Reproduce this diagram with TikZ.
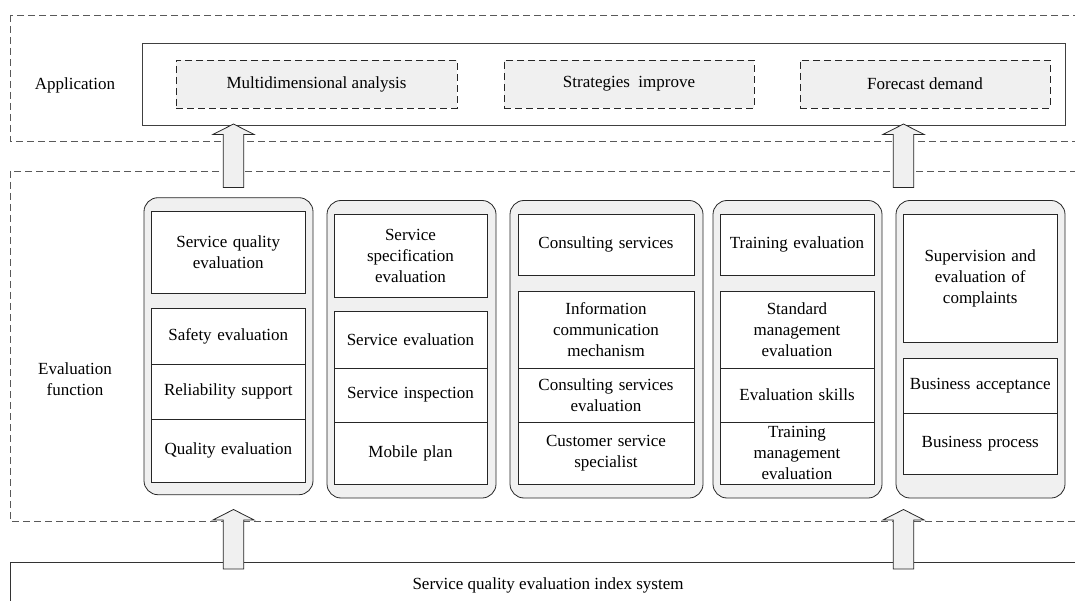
\documentclass[tikz,border=0pt]{standalone}
\usepackage{fontspec}
\setmainfont{Liberation Serif}
\usepackage{tikz}
\usetikzlibrary{positioning}

\definecolor{panelgray}{RGB}{240,240,240}

\tikzset{
  every node/.style={font=\fontsize{17pt}{21pt}\selectfont},
  layerbox/.style={draw=black!65, line width=0.8pt, dash pattern=on 7pt off 4pt},
  appbox/.style={draw=black!75, line width=0.9pt, inner sep=0pt},
  appitem/.style={draw=black!85, fill=panelgray, line width=0.8pt, dash pattern=on 7pt off 4pt, inner sep=0pt, minimum height=48pt},
  column/.style={draw=black!85, fill=panelgray, line width=0.8pt, rounded corners=14pt, inner sep=0pt},
  cell/.style={draw=black!85, fill=white, line width=0.8pt, inner sep=0pt, align=center},
  bigarrow/.style={draw=black!85, fill=panelgray, line width=0.8pt},
  layername/.style={align=center},
}

\begin{document}
\begin{tikzpicture}[x=1pt,y=-1pt]
  \useasboundingbox (0,0) rectangle (1075,601);
  \clip (0,0) rectangle (1075,601);

  % layers
  \draw [layerbox] (10,15) rectangle (1090,141);% application layer
  \draw [layerbox] (10,171) rectangle (1090,521);% evaluation layer
  \draw [black!80, line width=0.9pt] (10,620) -- (10,562) -- (1090,562);% index system

  \node[layername] (applabel) at (75,85) {Application};
  \node[layername] (evallabel) at (75,379) {Evaluation\\function};
  \node (indexsys) at (548,585) {Service quality evaluation index system};

  % application box
  \node[appbox, minimum width=923pt, minimum height=82pt] (appbox) at (603.5,84) {};
  \node[appitem, minimum width=281pt] (multi) at (316.5,84) {Multidimensional analysis};
  \node[appitem, minimum width=250pt] (strat) at (629,84) {Strategies\ \ improve};
  \node[appitem, minimum width=250pt] (forecast) at (925,84) {Forecast demand};

  % column 1
  \node[column, minimum width=169pt, minimum height=297pt] (col1) at (228.5,346.2) {};
  \begin{scope}[every node/.append style={minimum width=153.5pt, text width=145pt}]
    \node[cell, minimum height=82pt] (sqe) at (228.25,252) {Service quality\\evaluation};
    \node[cell, minimum height=56pt] (safety) at (228.25,336) {Safety evaluation};
    \node[cell, minimum height=55pt] (reliab) at (228.25,391.5) {Reliability support};
    \node[cell, minimum height=63pt] (quality) at (228.25,450.5) {Quality evaluation};
  \end{scope}

  % column 2
  \node[column, minimum width=169pt, minimum height=297.5pt] (col2) at (411.5,349.25) {};
  \begin{scope}[every node/.append style={minimum width=153pt, text width=145pt}]
    \node[cell, minimum height=83pt] (spec) at (410.5,255.5) {Service\\specification\\evaluation};
    \node[cell, minimum height=57pt] (serveval) at (410.5,339.5) {Service evaluation};
    \node[cell, minimum height=54pt] (inspect) at (410.5,395) {Service inspection};
    \node[cell, minimum height=62pt] (mobile) at (410.5,453) {Mobile plan};
  \end{scope}

  % column 3
  \node[column, minimum width=193pt, minimum height=297.5pt] (col3) at (606.5,349.25) {};
  \begin{scope}[every node/.append style={minimum width=176pt, text width=168pt}]
    \node[cell, minimum height=61pt] (consult) at (606,244.5) {Consulting services};
    \node[cell, minimum height=77pt] (infocom) at (606,329.5) {Information\\communication\\mechanism};
    \node[cell, minimum height=54pt] (consulteval) at (606,395) {Consulting services\\evaluation};
    \node[cell, minimum height=62pt] (custserv) at (606,453) {Customer service\\specialist};
  \end{scope}

  % column 4
  \node[column, minimum width=169pt, minimum height=297.5pt] (col4) at (797.5,349.25) {};
  \begin{scope}[every node/.append style={minimum width=154pt, text width=146pt}]
    \node[cell, minimum height=61pt] (training) at (797,244.5) {Training evaluation};
    \node[cell, minimum height=77pt] (standard) at (797,329.5) {Standard\\management\\evaluation};
    \node[cell, minimum height=54pt] (skills) at (797,395) {Evaluation skills};
    \node[cell, minimum height=62pt] (trainmgmt) at (797,453) {Training\\management\\evaluation};
  \end{scope}

  % column 5
  \node[column, minimum width=169pt, minimum height=297.5pt] (col5) at (980.5,349.25) {};
  \begin{scope}[every node/.append style={minimum width=153.5pt, text width=145pt}]
    \node[cell, minimum height=128pt] (supervis) at (980.25,278) {Supervision and\\evaluation of\\complaints};
    \node[cell, minimum height=55pt] (accept) at (980.25,385.5) {Business acceptance};
    \node[cell, minimum height=61pt] (process) at (980.25,443.5) {Business process};
  \end{scope}

  % block arrows
  \coordinate (UpTipA) at (233.5,124);
  \coordinate (UpTipB) at (903.5,124);
  \coordinate (LowTipA) at (233.5,509.5);
  \coordinate (LowTipB) at (903.5,509.5);
  \foreach \tip in {UpTipA,UpTipB}
    \draw [bigarrow] (\tip) -- ++(20.6,10.5) -- ++(-10.3,0) -- ++(0,53) -- ++(-20.6,0) -- ++(0,-53) -- ++(-10.3,0) -- cycle;
  \foreach \tip in {LowTipA,LowTipB}
    \draw [bigarrow] (\tip) -- ++(20.6,10.5) -- ++(-10.3,0) -- ++(0,49) -- ++(-20.6,0) -- ++(0,-49) -- ++(-10.3,0) -- cycle;

\end{tikzpicture}
\end{document}
